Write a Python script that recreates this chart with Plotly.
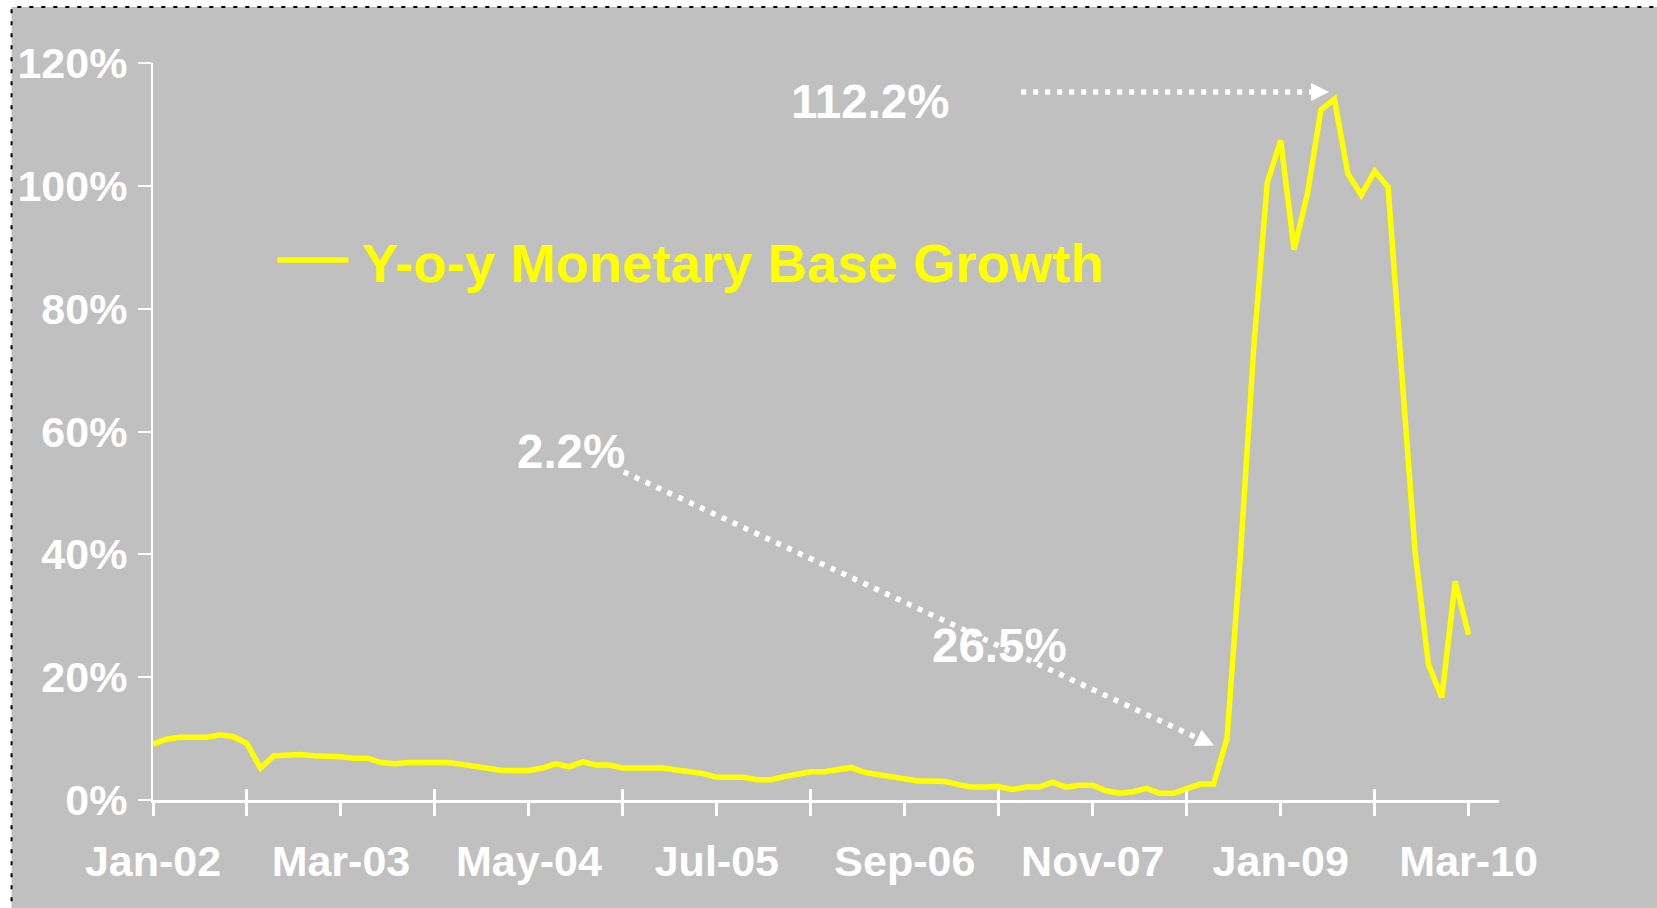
import pandas as pd
import plotly.graph_objects as go

# ---- data -------------------------------------------------------------
months = list(pd.date_range("2002-01-01", periods=99, freq="MS").strftime("%b-%y"))

growth_2002 = [9.1, 9.9, 10.2, 10.2, 10.2, 10.6, 10.3, 9.2, 5.2, 7.2, 7.4, 7.4]
growth_2003 = [7.2, 7.2, 7.05, 6.8, 6.8, 6.1, 5.9, 6.1, 6.1, 6.1, 6.1, 5.8]
growth_2004 = [5.4, 5.1, 4.8, 4.8, 4.8, 5.2, 5.9, 5.4, 6.2, 5.7, 5.7, 5.2]
growth_2005 = [5.2, 5.2, 5.2, 4.9, 4.6, 4.3, 3.7, 3.7, 3.7, 3.3, 3.3, 3.8]
growth_2006 = [4.2, 4.6, 4.6, 5.0, 5.3, 4.5, 4.2, 3.8, 3.4, 3.1, 3.1, 3.0]
growth_2007 = [2.5, 2.1, 2.1, 2.2, 1.7, 2.1, 2.1, 2.9, 2.1, 2.4, 2.4, 1.5]
growth_2008 = [1.1, 1.35, 1.9, 1.1, 1.1, 1.8, 2.6, 2.6, 10.0, 40.0, 73.9, 100.5]
growth_2009 = [107.4, 89.6, 98.8, 112.4, 114.1, 102.0, 98.5, 102.4, 99.8, 70.0, 40.7, 22.1]
growth_2010 = [16.7, 35.6, 26.9]
growth = (growth_2002 + growth_2003 + growth_2004 + growth_2005 + growth_2006
          + growth_2007 + growth_2008 + growth_2009 + growth_2010)

series_name = "Y-o-y Monetary Base Growth"
y_ticks = [0, 20, 40, 60, 80, 100, 120]
y_tick_text = [f"{v}%" for v in y_ticks]
tick_months = months[0::7]
tick_text = [m if i % 2 == 0 else "" for i, m in enumerate(tick_months)]
minor_months = months[7::14]

ann_peak = "112.2%"
ann_low = "2.2%"
ann_now = "26.5%"

# ---- styling ---------------------------------------------------------
GRAY = "#C0C0C0"
YEL = "#FFFF00"
WHITE = "#FFFFFF"
FONT = "Liberation Sans"

W, H = 1657, 908
L, R, T, B = 152.5, 158, 63, 108
x_max = 100.26

fig = go.Figure()
fig.add_trace(go.Scatter(x=months, y=growth, mode="lines", name=series_name,
                         line=dict(color=YEL, width=5.5), showlegend=False))
fig.add_trace(go.Scatter(x=months, y=[None] * len(months), xaxis="x2",
                         showlegend=False, hoverinfo="skip"))

tickfont = dict(family=FONT, size=43, color=WHITE, weight="bold")

fig.update_layout(
    width=W, height=H,
    margin=dict(l=L, r=R, t=T, b=B, autoexpand=False),
    paper_bgcolor="white",
    plot_bgcolor=GRAY,
    showlegend=False,
    xaxis=dict(type="category", categoryorder="array", categoryarray=months,
               range=[0, x_max], tickmode="array", tickvals=tick_months,
               ticktext=tick_text, ticks="outside", ticklen=13, tickwidth=2.5,
               tickcolor=WHITE, showline=True, linecolor=WHITE, linewidth=3,
               showgrid=False, zeroline=False, tickfont=tickfont, tickangle=0,
               ticklabelstandoff=8),
    xaxis2=dict(type="category", categoryorder="array", categoryarray=months,
                matches="x", overlaying="x", anchor="y", side="bottom",
                tickmode="array", tickvals=minor_months, ticks="inside",
                ticklen=11, tickwidth=2.5, tickcolor=WHITE,
                showticklabels=False, showline=False, showgrid=False,
                zeroline=False),
    yaxis=dict(range=[0, 120], tickmode="array", tickvals=y_ticks,
               ticktext=y_tick_text, ticks="outside", ticklen=13, tickwidth=2,
               tickcolor=WHITE, showline=True, linecolor=WHITE, linewidth=2,
               showgrid=False, zeroline=False, tickfont=tickfont,
               ticklabelstandoff=2),
)

def px_x(p):
    return (p - L) / (W - L - R)

def px_y(p):
    return (H - B - p) / (H - T - B)

# outer dotted border / gray panel
fig.add_shape(type="rect", xref="paper", yref="paper",
              x0=px_x(11), x1=px_x(1700), y0=px_y(960), y1=px_y(7),
              fillcolor=GRAY, line=dict(color="black", width=2, dash="4px,8px"),
              layer="below")

# legend (manual, long sample line as in reference)
fig.add_shape(type="line", xref="paper", yref="paper",
              x0=px_x(277), x1=px_x(348), y0=px_y(260), y1=px_y(260),
              line=dict(color=YEL, width=5.5))
fig.add_annotation(xref="paper", yref="paper", x=px_x(360), y=px_y(263),
                   xanchor="left", yanchor="middle", showarrow=False,
                   text=series_name,
                   font=dict(family=FONT, size=54.5, color=YEL, weight="bold"))

annfont = dict(family=FONT, size=47.5, color=WHITE, weight="bold")
for txt, cx, cy in [(ann_peak, 869.5, 102), (ann_low, 570.5, 452), (ann_now, 999, 645)]:
    fig.add_annotation(xref="paper", yref="paper", x=px_x(cx), y=px_y(cy),
                       xanchor="center", yanchor="middle", showarrow=False,
                       text=txt, font=annfont)

# dotted arrows
dot = dict(color=WHITE, width=5.5, dash="5px,7px")
fig.add_shape(type="line", xref="paper", yref="paper",
              x0=px_x(1021), y0=px_y(92), x1=px_x(1311), y1=px_y(92), line=dot)
fig.add_shape(type="line", xref="paper", yref="paper",
              x0=px_x(623.5), y0=px_y(472), x1=px_x(1195), y1=px_y(737), line=dot)

for tx, ty, ax, ay in [(1329, 92, -18, 0), (1214, 745.5, -16.3, -7.6)]:
    fig.add_annotation(xref="paper", yref="paper", x=px_x(tx), y=px_y(ty),
                       ax=ax, ay=ay, axref="pixel", ayref="pixel", text="",
                       showarrow=True, arrowhead=2, arrowsize=1.8, arrowwidth=2,
                       arrowcolor=WHITE, standoff=0)

fig.write_html("out.html", config={"displayModeBar": False},
               post_script="document.body.style.margin='0';")
